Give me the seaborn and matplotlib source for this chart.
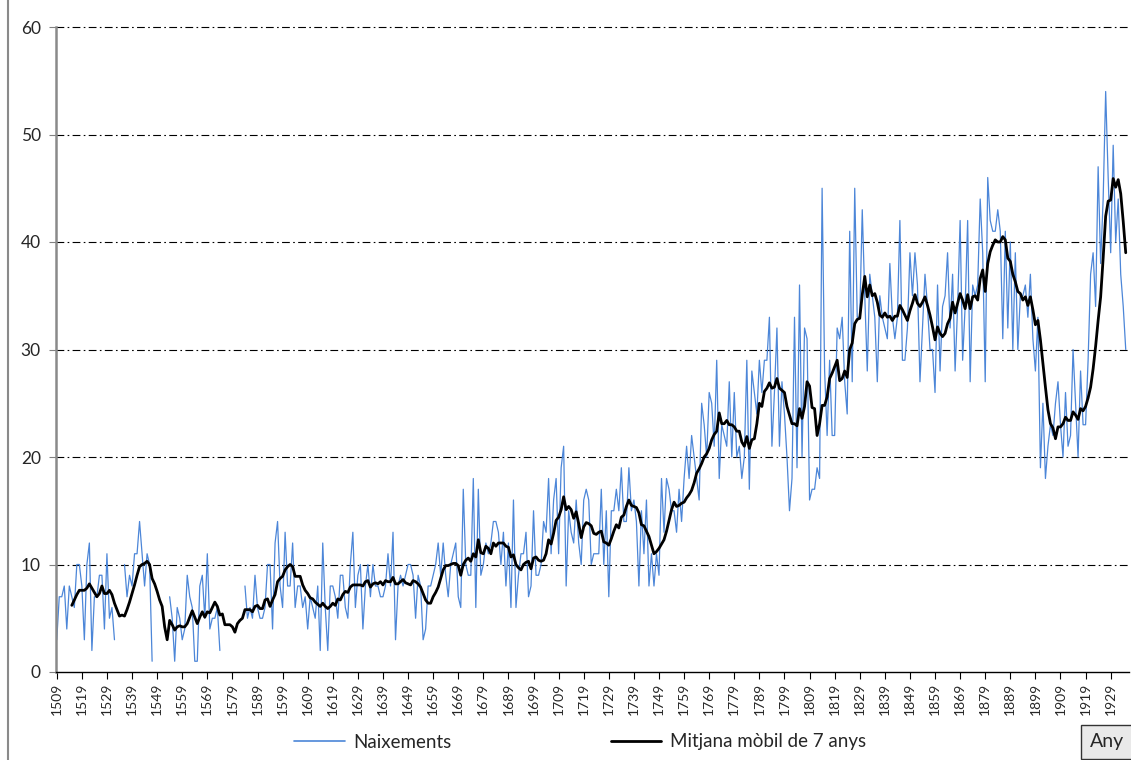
import numpy as np
import pandas as pd
import matplotlib
matplotlib.use("Agg")
import matplotlib.pyplot as plt
import seaborn as sns
from matplotlib.lines import Line2D

nan = np.nan

# ---------------- data ----------------
years = np.arange(1509, 1936)
births = [
    3, 7, 7, 8, 4, 8, 7, 6, 10, 10,            # 1509-1518
    8, 3, 10, 12, 2, 7, 7, 9, 9, 4,            # 1519-1528
    11, 5, 6, 3, nan, nan, nan, 10, 7, 9,      # 1529-1538
    8, 11, 11, 14, 11, 8, 11, 10, 1, nan,      # 1539-1548
    nan, nan, nan, nan, nan, 7, 5, 1, 6, 5,    # 1549-1558
    3, 4, 9, 7, 6, 1, 1, 8, 9, 5,              # 1559-1568
    11, 4, 5, 5, 6, 2, nan, nan, nan, nan,     # 1569-1578
    nan, nan, nan, nan, nan, 8, 5, 6, 5, 9,    # 1579-1588
    6, 5, 5, 6, 10, 10, 4, 12, 14, 8,          # 1589-1598
    6, 13, 8, 8, 12, 6, 8, 8, 6, 7,            # 1599-1608
    4, 7, 6, 5, 8, 2, 12, 6, 2, 8,             # 1609-1618
    8, 7, 5, 9, 9, 6, 5, 10, 13, 6,            # 1619-1628
    9, 10, 4, 8, 10, 7, 10, 8, 8, 7,           # 1629-1638
    7, 8, 11, 8, 13, 3, 8, 9, 8, 9,            # 1639-1648
    10, 10, 9, 5, 9, 8, 3, 4, 8, 8,            # 1649-1658
    9, 10, 12, 9, 12, 9, 7, 10, 11, 12,        # 1659-1668
    7, 6, 17, 10, 9, 9, 18, 6, 17, 9,          # 1669-1678
    10, 12, 11, 12, 14, 14, 13, 10, 13, 8,     # 1679-1688
    12, 6, 16, 6, 9, 11, 11, 13, 7, 8,         # 1689-1698
    15, 9, 9, 10, 14, 13, 18, 11, 16, 18,      # 1699-1708
    11, 19, 21, 8, 15, 13, 12, 16, 12, 10,     # 1709-1718
    16, 17, 16, 10, 11, 11, 11, 17, 10, 15,    # 1719-1728
    7, 15, 15, 17, 15, 19, 14, 14, 19, 15,     # 1729-1738
    16, 14, 8, 15, 11, 16, 8, 11, 8, 11,       # 1739-1748
    9, 18, 13, 18, 17, 15, 15, 13, 17, 14,     # 1749-1758
    18, 21, 18, 22, 20, 18, 16, 25, 23, 20,    # 1759-1768
    26, 25, 21, 29, 18, 23, 22, 21, 27, 20,    # 1769-1778
    26, 20, 21, 18, 20, 29, 17, 28, 26, 24,    # 1779-1788
    29, 26, 29, 29, 33, 21, 26, 32, 21, 27,    # 1789-1798
    24, 20, 15, 18, 33, 19, 36, 20, 32, 31,    # 1799-1808
    16, 17, 17, 19, 18, 45, 28, 22, 29, 22,    # 1809-1818
    22, 32, 31, 33, 27, 24, 41, 27, 45, 33,    # 1819-1828
    33, 43, 35, 28, 37, 35, 33, 27, 35, 33,    # 1829-1838
    32, 31, 38, 33, 31, 33, 42, 29, 29, 32,    # 1839-1848
    39, 35, 39, 36, 27, 32, 37, 34, 30, 30,    # 1849-1858
    26, 36, 28, 34, 35, 39, 32, 37, 28, 34,    # 1859-1868
    42, 29, 34, 42, 27, 36, 35, 36, 44, 39,    # 1869-1878
    27, 46, 42, 41, 41, 43, 41, 31, 41, 32,    # 1879-1888
    40, 30, 39, 30, 35, 35, 36, 33, 37, 31,    # 1889-1898
    28, 33, 19, 25, 18, 21, 23, 22, 25, 27,    # 1899-1908
    23, 20, 26, 21, 22, 30, 25, 20, 28, 23,    # 1909-1918
    23, 29, 37, 39, 34, 47, 38, 44, 54, 46,    # 1919-1928
    39, 49, 40, 44, 37, 34, 30,                # 1929-1935
]

ma_years = np.arange(1515, 1936)
moving_avg = [
    6.2, 6.7, 7.2, 7.6, 7.6, 7.6, 7.8, 8.2, 7.8, 7.4,          # 1515-1524
    7.0, 7.3, 8.0, 7.3, 7.3, 7.6, 7.2, 6.4, 5.8, 5.2,          # 1525-1534
    5.3, 5.2, 5.8, 6.5, 7.3, 8.1, 9.0, 9.8, 10.0, 10.1,        # 1535-1544
    10.3, 10.0, 8.7, 8.2, 7.5, 6.7, 6.1, 4.2, 3.0, 4.8,        # 1545-1554
    4.4, 3.9, 4.2, 4.3, 4.2, 4.2, 4.5, 5.1, 5.7, 5.1,          # 1555-1564
    4.5, 5.1, 5.6, 5.1, 5.6, 5.5, 6.0, 6.5, 6.1, 5.3,          # 1565-1574
    5.4, 4.4, 4.4, 4.4, 4.2, 3.7, 4.5, 4.8, 5.0, 5.8,          # 1575-1584
    5.8, 5.8, 5.6, 6.1, 6.2, 5.9, 5.9, 6.7, 6.8, 6.1,          # 1585-1594
    6.7, 7.2, 8.4, 8.7, 8.9, 9.5, 9.8, 10.0, 9.8, 8.9,         # 1595-1604
    8.9, 8.9, 8.1, 7.6, 7.3, 6.9, 6.8, 6.5, 6.3, 6.1,          # 1605-1614
    6.4, 6.1, 5.9, 6.1, 6.4, 6.2, 6.8, 6.7, 7.2, 7.5,          # 1615-1624
    7.4, 7.9, 8.1, 8.1, 8.1, 8.1, 8.0, 8.4, 8.5, 7.9,          # 1625-1634
    8.2, 8.3, 8.2, 8.4, 8.1, 8.5, 8.4, 8.4, 8.8, 8.2,          # 1635-1644
    8.2, 8.4, 8.6, 8.3, 8.2, 8.1, 8.5, 8.4, 8.2, 7.9,          # 1645-1654
    7.3, 6.7, 6.4, 6.4, 7.0, 7.4, 7.9, 8.7, 9.5, 9.9,          # 1655-1664
    9.9, 10.0, 10.1, 10.1, 9.9, 9.0, 10.0, 10.4, 10.6, 10.3,   # 1665-1674
    11.0, 10.7, 12.3, 11.1, 11.0, 11.7, 11.5, 11.0, 12.0, 11.7,  # 1675-1684
    12.0, 12.0, 12.0, 11.7, 11.6, 10.7, 10.9, 10.0, 9.7, 9.5,  # 1685-1694
    10.0, 10.2, 10.3, 9.6, 10.6, 10.7, 10.4, 10.3, 10.4, 11.0,  # 1695-1704
    12.3, 11.9, 12.9, 14.1, 14.4, 15.1, 16.3, 15.1, 15.4, 15.1,  # 1705-1714
    14.3, 14.9, 13.8, 12.5, 13.5, 13.9, 13.8, 13.6, 12.9, 12.8,  # 1715-1724
    13.0, 13.1, 12.1, 12.0, 11.8, 12.4, 13.1, 13.7, 13.4, 14.4,  # 1725-1734
    14.6, 15.4, 16.0, 15.5, 15.4, 15.3, 14.8, 13.7, 13.6, 13.1,  # 1735-1744
    12.6, 11.8, 11.0, 11.2, 11.5, 11.9, 12.3, 13.1, 14.1, 15.1,  # 1745-1754
    15.8, 15.4, 15.5, 15.7, 15.8, 16.2, 16.5, 16.9, 17.6, 18.5,  # 1755-1764
    18.9, 19.4, 20.0, 20.3, 20.8, 21.6, 22.1, 22.4, 24.1, 23.1,  # 1765-1774
    23.1, 23.4, 23.0, 23.0, 22.8, 22.4, 22.4, 21.4, 21.0, 21.9,  # 1775-1784
    20.8, 21.6, 21.7, 23.1, 25.0, 24.7, 26.1, 26.4, 26.9, 26.4,  # 1785-1794
    26.5, 27.3, 26.4, 26.2, 26.0, 24.7, 23.9, 23.1, 23.1, 22.9,  # 1795-1804
    24.5, 23.6, 24.7, 27.0, 26.6, 24.6, 24.5, 22.0, 23.1, 24.8,  # 1805-1814
    24.8, 25.6, 27.3, 27.8, 28.4, 29.0, 27.1, 27.3, 28.0, 27.4,  # 1815-1824
    30.0, 30.6, 32.4, 32.8, 32.9, 35.1, 36.8, 34.9, 36.0, 35.0,  # 1825-1834
    35.2, 34.4, 33.2, 33.0, 33.4, 33.0, 33.1, 32.7, 33.1, 33.1,  # 1835-1844
    34.1, 33.7, 33.2, 32.7, 33.6, 34.3, 35.1, 34.3, 34.0, 34.4,  # 1845-1854
    34.9, 34.1, 33.2, 32.1, 30.9, 32.1, 31.5, 31.2, 31.5, 32.4,  # 1855-1864
    32.9, 34.4, 33.4, 34.3, 35.2, 34.6, 33.8, 35.1, 33.8, 34.9,  # 1865-1874
    35.0, 34.6, 36.6, 37.4, 35.4, 38.0, 39.1, 39.7, 40.2, 40.0,  # 1875-1884
    40.0, 40.5, 40.2, 38.5, 38.2, 37.0, 36.3, 35.4, 35.2, 34.6,  # 1885-1894
    34.9, 34.1, 34.9, 33.7, 32.3, 32.7, 30.9, 28.7, 26.5, 24.4,  # 1895-1904
    23.1, 22.7, 21.7, 22.8, 22.8, 23.1, 23.7, 23.4, 23.4, 24.2,  # 1905-1914
    23.9, 23.5, 24.5, 24.3, 24.7, 25.5, 26.5, 28.2, 30.3, 32.7,  # 1915-1924
    34.9, 38.5, 42.4, 43.8, 43.9, 45.9, 45.1, 45.8, 44.5, 41.9,  # 1925-1934
    39.0,                                                        # 1935
]

tick_years = np.arange(1509, 1930, 10)
y_ticks = [0, 10, 20, 30, 40, 50, 60]
series_labels = ["Naixements", "Mitjana mòbil de 7 anys"]
axis_button = "Any"

# ---------------- style ----------------
sns.set_theme(style="white")
plt.rcParams["font.family"] = ["Lato", "DejaVu Sans"]

W, H = 1131, 760
fig = plt.figure(figsize=(W / 100, H / 100), dpi=100)
fig.patch.set_facecolor("white")
ax = fig.add_axes([56 / W, (H - 672) / H, (1129 - 56) / W, (672 - 27) / H])
ax.set_facecolor("white")

blue = "#4C86D8"

# gridlines
for yv in y_ticks[1:]:
    ax.axhline(yv, color="black", lw=0.8, linestyle=(0, (7, 3, 1.5, 3)),
               zorder=0, clip_on=False)

# births series (with gaps for missing years)
df = pd.DataFrame({"year": years, "births": births})
df["seg"] = df["births"].isna().cumsum()
df = df.dropna()
sns.lineplot(data=df, x="year", y="births", units="seg", estimator=None,
             color=blue, linewidth=0.9, ax=ax, legend=False, zorder=2)

# 7-year moving average
dm = pd.DataFrame({"year": ma_years, "ma": moving_avg})
sns.lineplot(data=dm, x="year", y="ma", color="black", linewidth=2.0,
             ax=ax, legend=False, zorder=3)

ax.set_xlim(1508.7, 1936.3)
ax.set_ylim(0, 60)
ax.set_xlabel("")
ax.set_ylabel("")

ax.set_xticks(tick_years)
ax.set_xticklabels([str(y) for y in tick_years], rotation=90, fontsize=10)
ax.set_yticks(y_ticks)
ax.set_yticklabels([str(v) for v in y_ticks], fontsize=12.5)

ax.tick_params(axis="x", direction="out", length=5, width=0.8, color="black",
               pad=3, bottom=True)
ax.tick_params(axis="y", direction="out", length=5, width=0.8, color="#808080",
               pad=6, left=True)

for s in ["top", "right"]:
    ax.spines[s].set_visible(False)
ax.spines["left"].set_color("#8a8a8a")
ax.spines["left"].set_linewidth(1.8)
ax.spines["bottom"].set_color("black")
ax.spines["bottom"].set_linewidth(1.0)

# legend
handles = [Line2D([0], [0], color=blue, lw=1.2),
           Line2D([0], [0], color="black", lw=2.0)]
fig.legend(handles, series_labels, loc="center", bbox_to_anchor=(580 / W, 18 / H),
           ncol=2, frameon=False, fontsize=13.5, handlelength=2.7,
           columnspacing=8.5, handletextpad=0.45)

# "Any" field button
fig.text(1107 / W, 18 / H, axis_button, ha="center", va="center", fontsize=14,
         bbox=dict(boxstyle="square,pad=0.45", fc="#e9e9e9", ec="#333333", lw=1.0))

# chart border on the left
fig.add_artist(Line2D([8 / W, 8 / W], [0, 1], color="#8a8a8a", lw=1.5,
                      transform=fig.transFigure))

fig.savefig("out.png", dpi=100)
